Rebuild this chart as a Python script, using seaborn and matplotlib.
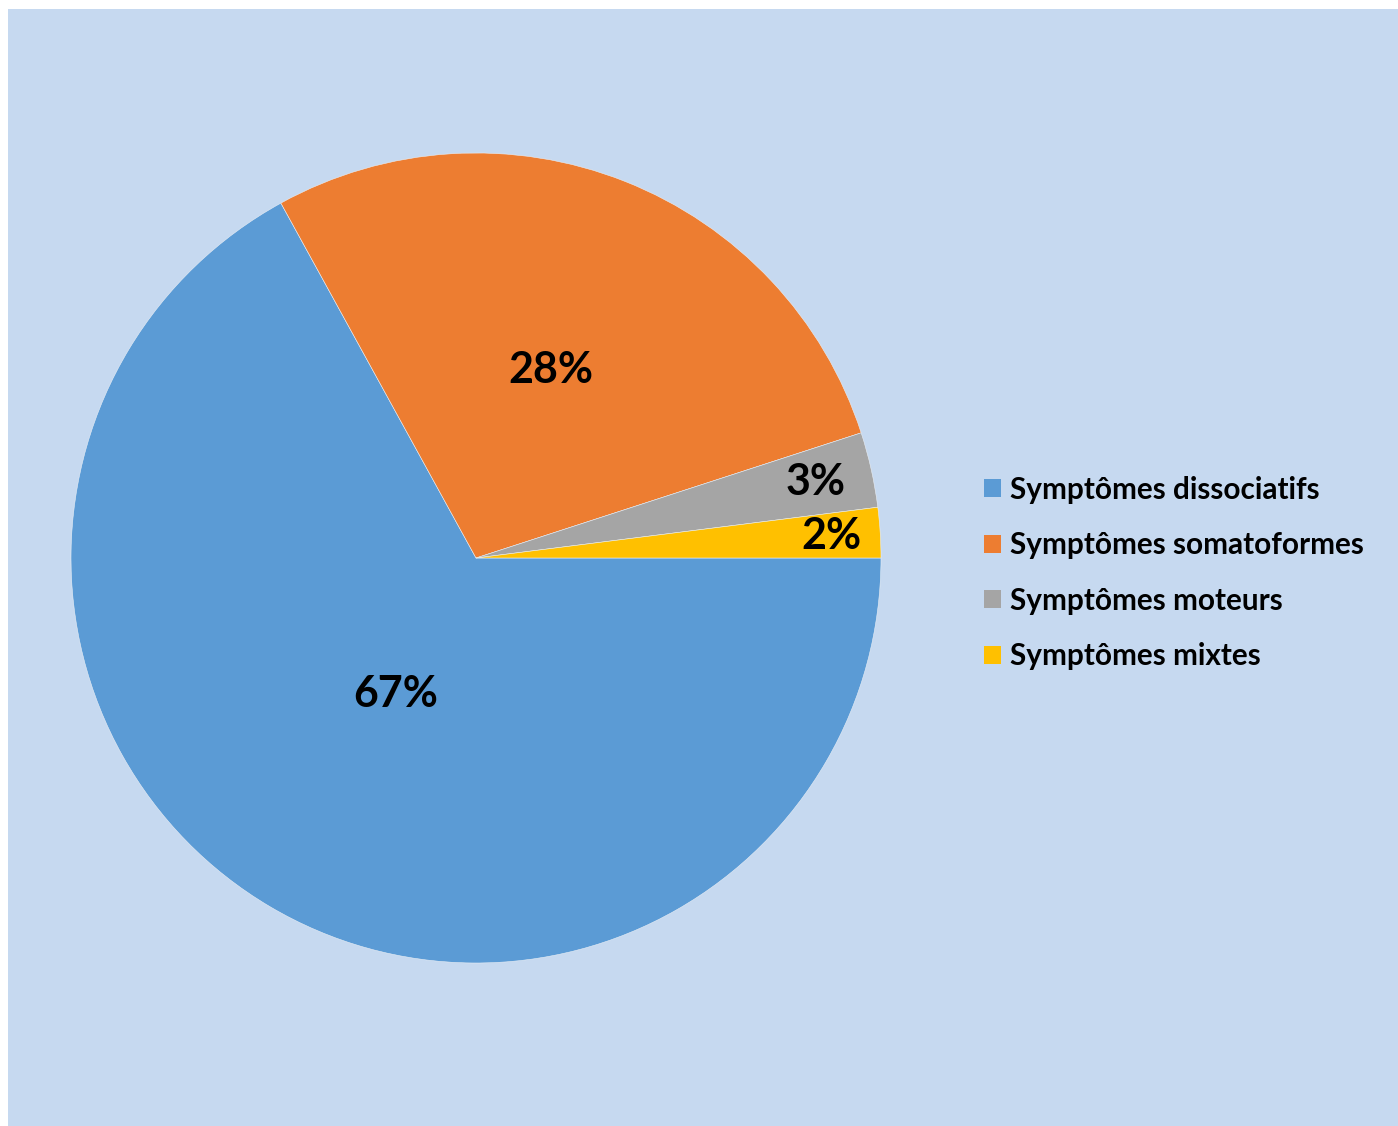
import matplotlib
matplotlib.use("Agg")
import matplotlib.pyplot as plt
import matplotlib.patches as mpatches
import numpy as np
import seaborn as sns

sns.set_theme(style="white")
plt.rcParams['font.family'] = ['Lato', 'DejaVu Sans']

categories = ["Symptômes dissociatifs", "Symptômes somatoformes",
              "Symptômes moteurs", "Symptômes mixtes"]
shares = [67, 28, 3, 2]
colors = ["#5B9BD5", "#ED7D31", "#A5A5A5", "#FFC000"]
label_radii = [0.39, 0.50, 0.86, 0.88]

W, H = 1398, 1126
fig = plt.figure(figsize=(W / 100, H / 100), dpi=100)
fig.patch.set_facecolor("white")

# light blue chart area behind everything
fig.patches.append(mpatches.Rectangle((8 / W, 0), 1 - 8 / W, 1 - 9 / H,
                                      transform=fig.transFigure,
                                      facecolor="#C6D9F0", edgecolor="none",
                                      zorder=-10))

cx, cy, r = 476, 558, 405
ax = fig.add_axes([(cx - r) / W, (H - cy - r) / H, 2 * r / W, 2 * r / H])
ax.set_facecolor("none")
ax.set_zorder(1)

wedges, texts, autotexts = ax.pie(
    shares, colors=colors, startangle=0, counterclock=False,
    autopct=lambda p: f"{p:.0f}%",
    wedgeprops=dict(edgecolor="#E8EEF5", linewidth=0.4),
    textprops=dict(fontsize=31, fontweight="bold", color="black"),
)
for w, t, rad in zip(wedges, autotexts, label_radii):
    ang = np.deg2rad((w.theta1 + w.theta2) / 2)
    t.set_position((rad * np.cos(ang), rad * np.sin(ang)))
    t.set_ha("center")
    t.set_va("center")

ax.set_xlim(-1, 1)
ax.set_ylim(-1, 1)
ax.set_aspect("equal")
ax.axis("off")

handles = [mpatches.Patch(facecolor=c, edgecolor="none") for c in colors]
leg = fig.legend(handles, categories, loc="center left",
                 bbox_to_anchor=(957 / W, 1 - 573 / H), frameon=False,
                 prop=dict(size=21.4, weight="bold"),
                 handlelength=0.57, handleheight=0.57, handletextpad=0.3,
                 labelspacing=0.93)
leg.set_zorder(2)
for t in leg.get_texts():
    t.set_color("black")

fig.savefig("out.png", dpi=100, facecolor=fig.get_facecolor())
